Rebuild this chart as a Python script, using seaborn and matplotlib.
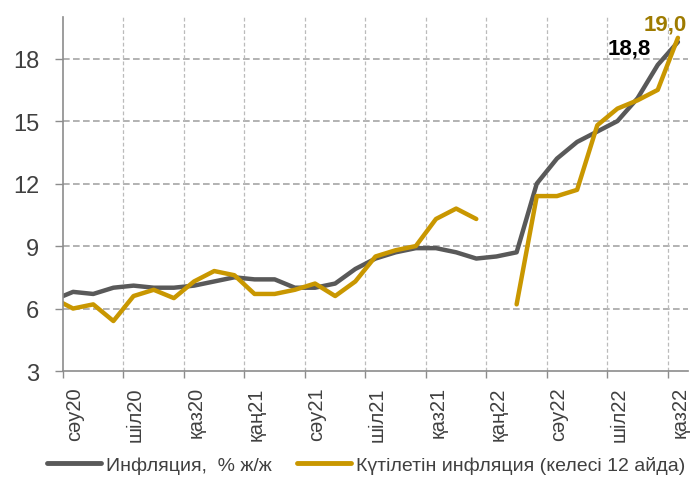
import numpy as np
import pandas as pd
import matplotlib
matplotlib.use("Agg")
import matplotlib.pyplot as plt
from matplotlib.lines import Line2D
import seaborn as sns

# ---- data ----
months = ["нау20", "сәу20", "мам20", "мау20", "шіл20", "там20", "қыр20", "қаз20", "қар20", "жел20",
          "қаң21", "ақп21", "нау21", "сәу21", "мам21", "мау21", "шіл21", "там21", "қыр21", "қаз21",
          "қар21", "жел21", "қаң22", "ақп22", "нау22", "сәу22", "мам22", "мау22", "шіл22", "там22",
          "қыр22", "қаз22"]
inflation = [6.4, 6.8, 6.7, 7.0, 7.1, 7.0, 7.0, 7.1, 7.3, 7.5,
             7.4, 7.4, 7.0, 7.0, 7.2, 7.9, 8.4, 8.7, 8.9, 8.9,
             8.7, 8.4, 8.5, 8.7, 12.0, 13.2, 14.0, 14.5, 15.0, 16.1,
             17.7, 18.8]
expected = [6.5, 6.0, 6.2, 5.4, 6.6, 6.9, 6.5, 7.3, 7.8, 7.6,
            6.7, 6.7, 6.9, 7.2, 6.6, 7.3, 8.5, 8.8, 9.0, 10.3,
            10.8, 10.3, np.nan, 6.2, 11.4, 11.4, 11.7, 14.8, 15.6, 16.0,
            16.5, 19.0]
tick_labels = ["сәу20", "шіл20", "қаз20", "қаң21", "сәу21", "шіл21",
               "қаз21", "қаң22", "сәу22", "шіл22", "қаз22"]
series_names = ["Инфляция,  % ж/ж", "Күтілетін инфляция (келесі 12 айда)"]

GRAY = "#595959"
GOLD = "#C99700"
GOLD_TXT = "#9E7B00"

# ---- frames ----
pos = np.arange(len(months)) - 1  # first month (нау20) sits left of the plot area
df_inf = pd.DataFrame({"pos": pos, "val": inflation})
df_exp = pd.DataFrame({"pos": pos, "val": expected})
df_exp["seg"] = df_exp["val"].isna().cumsum()
df_exp = df_exp.dropna()

sns.set_theme(style="white")
plt.rcParams["font.family"] = ["Liberation Sans", "DejaVu Sans"]

fig = plt.figure(figsize=(6.96, 4.81), dpi=100)
ax = fig.add_axes([0.0905, 0.2266, 0.898, 0.736])

sns.lineplot(data=df_inf, x="pos", y="val", color=GRAY, lw=3.2, ax=ax,
             estimator=None, legend=False, solid_joinstyle="round")
sns.lineplot(data=df_exp, x="pos", y="val", units="seg", estimator=None,
             color=GOLD, lw=3.2, ax=ax, legend=False, solid_joinstyle="round")

ax.set_xlim(-0.5, len(months) - 1.5)
ax.set_ylim(3, 20)
ax.set_xlabel("")
ax.set_ylabel("")

# y axis
ax.set_yticks(np.arange(3, 19, 3))
ax.tick_params(axis="y", which="major", length=6, width=1, color="#8C8C8C",
               direction="out", pad=11, labelsize=17, labelcolor="#404040", left=True)

# x axis: ticks/grid at category boundaries, labels at category centres
label_idx = [months.index(l) for l in tick_labels]
label_pos = [pos[i] for i in label_idx]
ax.set_xticks([p - 0.5 for p in label_pos])
ax.set_xticklabels([])
ax.set_xticks([p + 0.1 for p in label_pos], minor=True)
ax.set_xticklabels(tick_labels, minor=True, rotation=90)
ax.tick_params(axis="x", which="major", length=5, width=1, color="#8C8C8C",
               direction="out", bottom=True)
ax.tick_params(axis="x", which="minor", length=0, pad=11, labelsize=14.5,
               labelcolor="#404040", bottom=True)

# grid
ax.grid(False)
for y in np.arange(6, 19, 3):
    ax.axhline(y, color="#A6A6A6", lw=1.2, ls=(0, (4, 2)), zorder=0)
for p in label_pos[1:]:
    ax.axvline(p - 0.5, color="#BBBBBB", lw=0.9, ls=(0, (3, 2)), zorder=0)

for s in ["top", "right"]:
    ax.spines[s].set_visible(False)
for s in ["left", "bottom"]:
    ax.spines[s].set_color("#8C8C8C")
    ax.spines[s].set_linewidth(1.2)

# end labels
ax.annotate(f"{inflation[-1]:.1f}".replace(".", ","), xy=(pos[-1], inflation[-1]),
            xytext=(-35, -4), textcoords="offset points", ha="center", va="center",
            fontsize=16, fontweight="bold", color="black", annotation_clip=False)
ax.annotate(f"{expected[-1]:.1f}".replace(".", ","), xy=(pos[-1], expected[-1]),
            xytext=(-9, 10), textcoords="offset points", ha="center", va="center",
            fontsize=16, fontweight="bold", color=GOLD_TXT, annotation_clip=False)

# legend
handles = [Line2D([0], [0], color=GRAY, lw=3.5), Line2D([0], [0], color=GOLD, lw=3.5)]
fig.legend(handles, series_names, loc="center", bbox_to_anchor=(0.526, 0.031),
           ncol=2, frameon=False, fontsize=14, handlelength=2.8, handletextpad=0.25,
           columnspacing=1.3, labelcolor="#404040")

fig.savefig("out.png", dpi=100)
